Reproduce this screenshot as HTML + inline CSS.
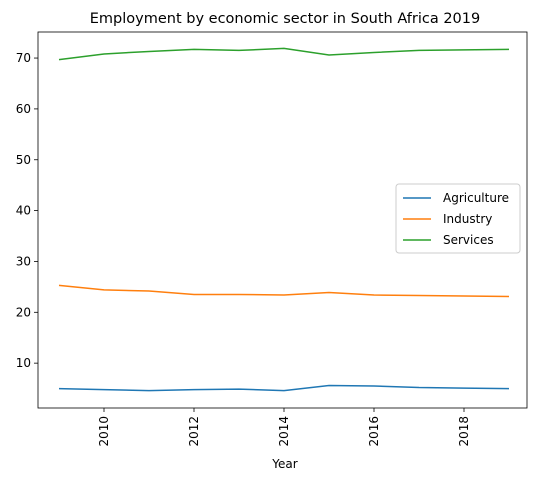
<!DOCTYPE html>
<html><head><meta charset="utf-8"><style>
body{margin:0;background:#fff;font-family:"Liberation Sans","DejaVu Sans",sans-serif;}
svg text{font-family:"DejaVu Sans","Liberation Sans",sans-serif;}
</style></head><body>
<svg id="c" width="543" height="481" xmlns="http://www.w3.org/2000/svg"></svg>
<script>
const years=[2009,2010,2011,2012,2013,2014,2015,2016,2017,2018,2019];
const agriculture=[5.0,4.8,4.6,4.8,4.9,4.6,5.6,5.5,5.2,5.1,5.0];
const industry=[25.3,24.4,24.2,23.5,23.5,23.4,23.9,23.4,23.3,23.2,23.1];
const services=[69.7,70.8,71.3,71.7,71.5,71.9,70.6,71.1,71.5,71.6,71.7];
const xTicks=[2010,2012,2014,2016,2018];
const yTicks=[10,20,30,40,50,60,70];
const L=38,R=527,T=32,B=408;
const x=v=>59+(v-2009)*45;
const y=v=>414-v*5.085;
const svg=document.getElementById('c');
const NS='http://www.w3.org/2000/svg';
function mk(t,a,p){const e=document.createElementNS(NS,t);for(const k in a)e.setAttribute(k,a[k]);(p||svg).appendChild(e);return e;}
let e=mk('text',{x:285,y:23,'text-anchor':'middle','font-size':14.5});e.textContent='Employment by economic sector in South Africa 2019';


e=mk('rect',{x:L,y:T,width:R-L,height:B-T,fill:'none',stroke:'#000','stroke-width':0.8});


yTicks.forEach(v=>{mk('line',{x1:L-4,x2:L,y1:y(v),y2:y(v),stroke:'#000','stroke-width':0.8});
const t=mk('text',{x:L-7,y:y(v)+4,'text-anchor':'end','font-size':12});t.textContent=v;

});
xTicks.forEach(v=>{mk('line',{x1:x(v),x2:x(v),y1:B,y2:B+4,stroke:'#000','stroke-width':0.8});
const t=mk('text',{x:x(v)+4,y:B+8,'text-anchor':'end','font-size':12,transform:`rotate(-90 ${x(v)+4} ${B+8})`});t.textContent=v;

});
e=mk('text',{x:285,y:468,'text-anchor':'middle','font-size':12});e.textContent='Year';


const series=[['Agriculture',agriculture,'#1f77b4'],['Industry',industry,'#ff7f0e'],['Services',services,'#2ca02c']];
series.forEach(([n,d,c])=>{const p=mk('polyline',{points:d.map((v,i)=>x(years[i])+','+y(v)).join(' '),fill:'none',stroke:c,'stroke-width':1.5});

});
const g=mk('g',{});


mk('rect',{x:396,y:184,width:124,height:69,rx:3,fill:'#fff',stroke:'#ccc'},g);
series.forEach(([n,d,c],i)=>{const yy=198+i*21;mk('line',{x1:403,x2:431,y1:yy,y2:yy,stroke:c,'stroke-width':1.5},g);
const t=mk('text',{x:443,y:yy+4,'font-size':12},g);t.textContent=n;

});
</script>
</body></html>
